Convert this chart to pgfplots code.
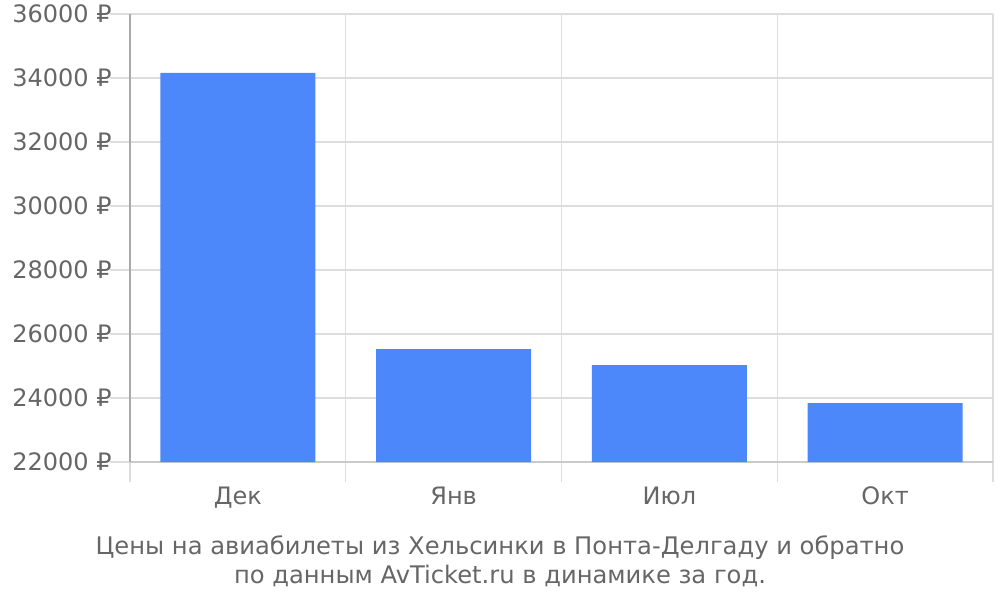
\documentclass[border=0pt]{standalone}
\usepackage{pgfplots}
\pgfplotsset{compat=1.18}
\usepackage{fontspec}
\setmainfont{DejaVu Sans}
\definecolor{barblue}{HTML}{4C88FA}
\definecolor{txt}{HTML}{666666}
\definecolor{gridc}{HTML}{DDDDDD}
\definecolor{axc}{HTML}{AAAAAA}
\begin{document}
\begin{tikzpicture}
\path[use as bounding box] (0,0) rectangle (500pt,300pt);
\begin{axis}[
  at={(65pt,69pt)}, anchor=south west,
  width=431.5pt, height=224pt, scale only axis,
  xmin=0, xmax=4, ymin=22000, ymax=36000,
  xtick={0,1,2,3,4}, xticklabels={},
  extra x ticks={0.5,1.5,2.5,3.5},
  extra x tick labels={Дек,Янв,Июл,Окт},
  extra x tick style={grid=none, major tick length=0pt,
     xticklabel style={yshift=-9pt}},
  ytick={22000,24000,...,36000},
  scaled y ticks=false,
  yticklabel={\pgfmathprintnumber{\tick}~₽},
  /pgf/number format/.cd, fixed, 1000 sep={}, assume math mode=true, /pgfplots/.cd,
  grid=major,
  major grid style={gridc, line width=0.6pt},
  tick align=outside,
  major tick length=10pt,
  tick style={gridc, line width=0.6pt},
  axis x line*=bottom, axis y line*=left,
  x axis line style={draw=gridc!80!gray, line width=0.6pt, -},
  y axis line style={draw=axc, line width=0.6pt, -},
  ticklabel style={font=\fontsize{12pt}{14pt}\selectfont, text=txt},
  yticklabel style={inner sep=0pt, xshift=1pt},
  clip=false,
]
\addplot[ybar, bar width=0.718, fill=barblue, draw=none, bar shift=0pt]
  coordinates {(0.5,34160) (1.5,25530) (2.5,25030) (3.5,23840)};
\end{axis}
\node[text=txt, font=\fontsize{12.1pt}{14.5pt}\selectfont, align=center] at (250pt,19.5pt)
  {Цены на авиабилеты из Хельсинки в Понта-Делгаду и обратно\\по данным AvTicket.ru в динамике за год.};
\end{tikzpicture}
\end{document}
